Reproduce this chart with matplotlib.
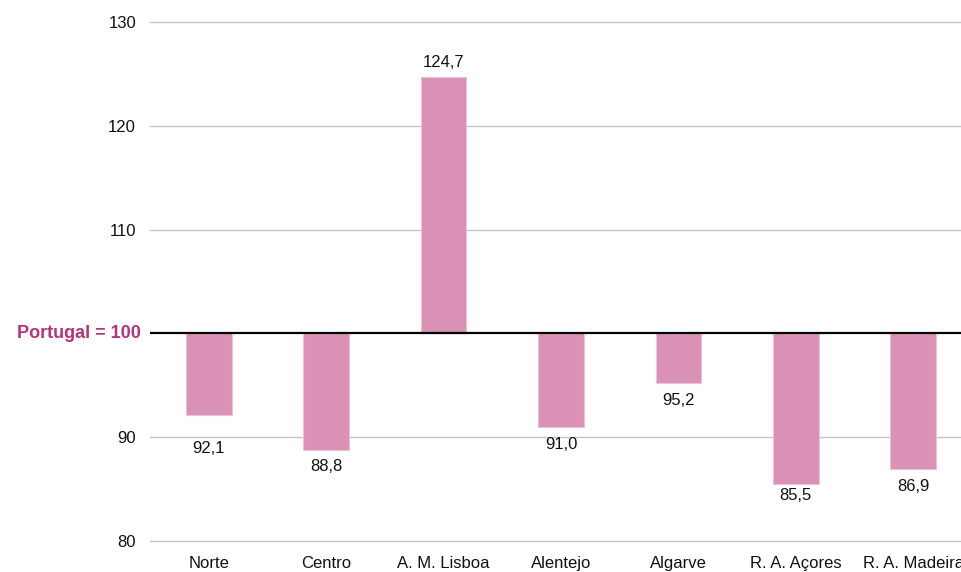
import matplotlib.pyplot as plt
import matplotlib

matplotlib.rcParams['font.family'] = ['Liberation Sans', 'DejaVu Sans']

# 区域指数 (Portugal = 100)
regioes = ['Norte', 'Centro', 'A. M. Lisboa', 'Alentejo', 'Algarve',
           'R. A. Açores', 'R. A. Madeira']
valores = [92.1, 88.8, 124.7, 91.0, 95.2, 85.5, 86.9]
base = 100
y_ticks = [80, 90, 110, 120, 130]

cor_barra = '#DA91B6'
cor_destaque = '#B8327A'

fig = plt.figure(figsize=(9.61, 5.72), dpi=100)
ax = fig.add_axes([150 / 961, 31 / 572, 822 / 961, 519 / 572])

x = list(range(len(regioes)))
alturas = [v - base for v in valores]
ax.bar(x, alturas, bottom=base, width=0.39, color=cor_barra,
       edgecolor='#EBC2D7', linewidth=0.8, zorder=3)

# 数值标签：负值在柱下方，正值在柱上方
ajuste = {0: 15, 5: -5}
for i, v in enumerate(valores):
    txt = f'{v:.1f}'.replace('.', ',')
    if v >= base:
        ax.annotate(txt, (i, v), xytext=(0, 5), textcoords='offset points',
                    ha='center', va='bottom', fontsize=12, color='#111111')
    else:
        off = 7 + ajuste.get(i, 0) * 0.75
        ax.annotate(txt, (i, v), xytext=(0, -off), textcoords='offset points',
                    ha='center', va='top', fontsize=12, color='#111111')

ax.axhline(base, color='black', linewidth=1.6, zorder=4)

ax.set_ylim(80, 130)
ax.set_xlim(-0.5, len(regioes) - 0.5)
ax.set_yticks(y_ticks)
ax.set_yticklabels([str(t) for t in y_ticks])
ax.set_xticks(x)
ax.set_xticklabels(regioes)
ax.tick_params(axis='both', length=0, labelsize=12, colors='#111111')
ax.tick_params(axis='y', pad=10)
ax.tick_params(axis='x', pad=11)
ax.yaxis.grid(True, color='#C4C4C4', linewidth=1.0, zorder=0)
for linha in ax.get_ygridlines():
    linha.set_clip_on(False)
for s in ax.spines.values():
    s.set_visible(False)

ax.text(-0.011, base, 'Portugal = 100', transform=ax.get_yaxis_transform(),
        ha='right', va='center', fontsize=13, fontweight='bold', color=cor_destaque)

plt.savefig('out.png', dpi=100)
plt.close()
